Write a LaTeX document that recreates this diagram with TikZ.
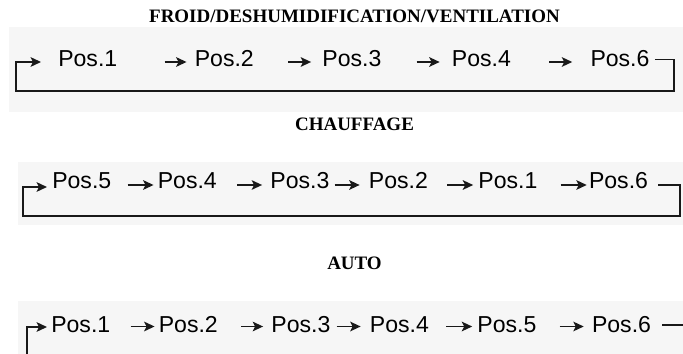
\documentclass[tikz,border=0pt]{standalone}
\usepackage{fontspec}
\setmainfont{Liberation Serif}
\newfontfamily\possans{Liberation Sans}
\usetikzlibrary{calc, positioning, arrows.meta}
\definecolor{panelgray}{gray}{0.965}
\definecolor{linegray}{gray}{0.1}

\begin{document}
\begin{tikzpicture}
                      [x=0.025cm, y=-0.025cm,
                       posnode/.style={inner sep=0pt, font=\possans\fontsize{16.4}{16.4}\selectfont},
                       titlenode/.style={inner sep=0pt, font=\bfseries\fontsize{13.5}{13.5}\selectfont},
                       arr/.style={-{Stealth[length=0.26cm, width=0.24cm, inset=0.06cm]}, line width=1.3pt, draw=linegray},
                       loopline/.style={arr, line width=1.4pt}]
                      \clip (0,0) rectangle (683,354);

                      % panels %
                      \fill[panelgray] (9,27) rectangle (683,112);
                      \fill[panelgray] (18,162) rectangle (683,225);
                      \fill[panelgray] (18,301) rectangle (683,354);

                      % titles %
                      \node[titlenode, anchor=base] (tfroid) at (354.5,23) {FROID/DESHUMIDIFICATION/VENTILATION};
                      \node[titlenode, anchor=base] (tchauf) at (354.5,131) {CHAUFFAGE};
                      \node[titlenode, anchor=base] (tauto) at (354.5,269) {AUTO};

                      % nodes %
                      \node[posnode, anchor=base west] (f1) at (58,66.5) {Pos.1};
                      \node[posnode, base right=1.925cm of f1] (f2) {Pos.2};
                      \node[posnode, base right=1.7cm of f2] (f3) {Pos.3};
                      \node[posnode, base right=1.75cm of f3] (f4) {Pos.4};
                      \node[posnode, base right=1.975cm of f4] (f6) {Pos.6};

                      \node[posnode, anchor=base west] (c1) at (52,189) {Pos.5};
                      \node[posnode, base right=1.15cm of c1] (c2) {Pos.4};
                      \node[posnode, base right=1.325cm of c2] (c3) {Pos.3};
                      \node[posnode, base right=0.975cm of c3] (c4) {Pos.2};
                      \node[posnode, base right=1.25cm of c4] (c5) {Pos.1};
                      \node[posnode, base right=1.275cm of c5] (c6) {Pos.6};

                      \node[posnode, anchor=base west] (a1) at (51,332) {Pos.1};
                      \node[posnode, base right=1.2cm of a1] (a2) {Pos.2};
                      \node[posnode, base right=1.325cm of a2] (a3) {Pos.3};
                      \node[posnode, base right=0.975cm of a3] (a4) {Pos.4};
                      \node[posnode, base right=1.2cm of a4] (a5) {Pos.5};
                      \node[posnode, base right=1.375cm of a5] (a6) {Pos.6};

                      % edges %
                      \draw[arr] ($(f2.base west)+(-30,-4.5)$) -- ($(f2.base west)+(-8,-4.5)$);
                      \draw[arr] ($(f3.base west)+(-34,-4.5)$) -- ($(f3.base west)+(-11,-4.5)$);
                      \draw[arr] ($(f4.base west)+(-35,-4.5)$) -- ($(f4.base west)+(-12,-4.5)$);
                      \draw[arr] ($(f6.base west)+(-41,-4.5)$) -- ($(f6.base west)+(-18,-4.5)$);
                      \draw[loopline] ($(f6.base east)+(5,-7)$) -- (674,59.5) |- (16,91) |- ($(f1.base west)+(-17,-4.5)$);

                      \draw[arr] ($(c2.base west)+(-30,-4)$) -- ($(c2.base west)+(-4,-4)$);
                      \draw[arr] ($(c3.base west)+(-33,-4)$) -- ($(c3.base west)+(-8,-4)$);
                      \draw[arr] ($(c4.base west)+(-34,-4)$) -- ($(c4.base west)+(-9,-4)$);
                      \draw[arr] ($(c5.base west)+(-31,-4)$) -- ($(c5.base west)+(-5,-4)$);
                      \draw[arr] ($(c6.base west)+(-28,-4)$) -- ($(c6.base west)+(-2,-4)$);
                      \draw[loopline] ($(c6.base east)+(10,-4)$) -- (680,185) |- (23,216) |- ($(c1.base west)+(-5,-2)$);

                      \draw[arr] ($(a2.base west)+(-28,-5.5)$) -- ($(a2.base west)+(-4,-5.5)$);
                      \draw[arr] ($(a3.base west)+(-30,-5.5)$) -- ($(a3.base west)+(-8,-5.5)$);
                      \draw[arr] ($(a4.base west)+(-33,-5.5)$) -- ($(a4.base west)+(-9,-5.5)$);
                      \draw[arr] ($(a5.base west)+(-31,-5.5)$) -- ($(a5.base west)+(-5,-5.5)$);
                      \draw[arr] ($(a6.base west)+(-32,-5.5)$) -- ($(a6.base west)+(-8,-5.5)$);
                      \draw[loopline] ($(a6.base east)+(11,-7)$) -- (700,325) |- (27,380) |- ($(a1.base west)+(-4,-5)$);
                    \end{tikzpicture}
\end{document}
